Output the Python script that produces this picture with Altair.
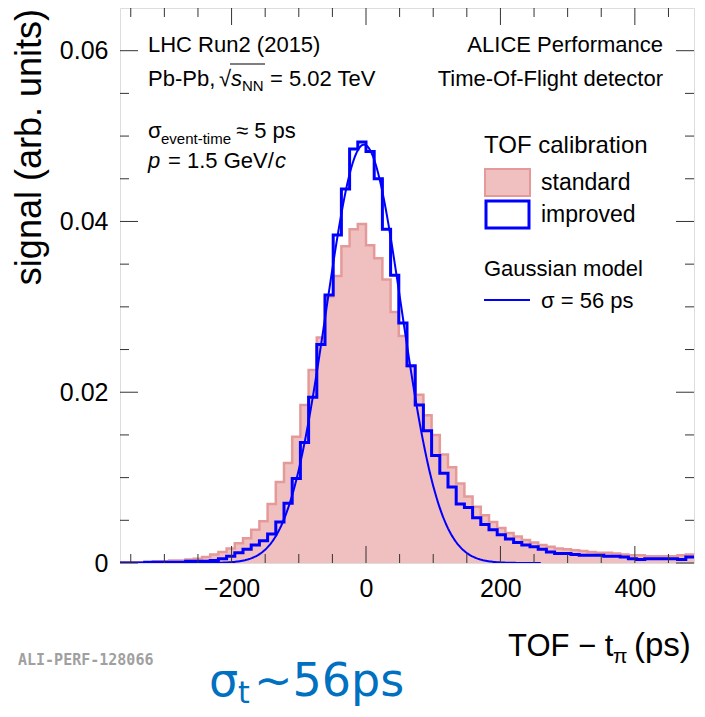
import altair as alt
import numpy as np
import pandas as pd

# ---------------- data ----------------
BIN_LOW = -366.0          # ps, left edge of first bin
BIN_WIDTH = 12.2          # ps
N_BINS = 70

STANDARD = [0.0001, 0.0001, 0.0001, 0.0001, 0.0002, 0.0002, 0.0003, 0.0003, 0.0004, 0.0005,
            0.0007, 0.0010, 0.0013, 0.0017, 0.0023, 0.0029, 0.0039, 0.0049, 0.0069, 0.0095,
            0.0117, 0.0148, 0.0185, 0.0226, 0.0264, 0.0312, 0.0336, 0.0371, 0.0391, 0.0397,
            0.0372, 0.0357, 0.0332, 0.0294, 0.0266, 0.0230, 0.0197, 0.0173, 0.0150, 0.0127,
            0.0112, 0.0093, 0.0078, 0.0066, 0.0056, 0.0048, 0.0041, 0.0035, 0.0031, 0.0027,
            0.0024, 0.0021, 0.0019, 0.0017, 0.0016, 0.0015, 0.0014, 0.0013, 0.0012, 0.0012,
            0.0011, 0.0010, 0.0009, 0.0009, 0.0008, 0.0008, 0.0008, 0.0008, 0.0009, 0.0010]

IMPROVED = [0.0000, 0.0000, 0.0000, 0.0001, 0.0001, 0.0001, 0.0001, 0.0001, 0.0002, 0.0002,
            0.0002, 0.0003, 0.0005, 0.0008, 0.0012, 0.0016, 0.0021, 0.0026, 0.0034, 0.0048,
            0.0070, 0.0099, 0.0141, 0.0194, 0.0256, 0.0314, 0.0384, 0.0438, 0.0485, 0.0493,
            0.0482, 0.0450, 0.0391, 0.0337, 0.0281, 0.0231, 0.0185, 0.0155, 0.0126, 0.0105,
            0.0089, 0.0069, 0.0065, 0.0053, 0.0045, 0.0039, 0.0033, 0.0028, 0.0024, 0.0021,
            0.0019, 0.0016, 0.0013, 0.0011, 0.0011, 0.0010, 0.0009, 0.0009, 0.0009, 0.0008,
            0.0008, 0.0007, 0.0005, 0.0004, 0.0005, 0.0005, 0.0005, 0.0005, 0.0004, 0.0007]

# Gaussian model shown in the legend (sigma = 56 ps)
GAUSS_MEAN = -3.0
GAUSS_SIGMA = 56.0
GAUSS_AMPLITUDE = 0.049
GAUSS_RANGE = [-366.0, 260.0]

X_DOMAIN = [-366.0, 488.0]
Y_DOMAIN = [0.0, 0.065]
X_LABELS = [-200, 0, 200, 400]
Y_LABELS = [0, 0.02, 0.04, 0.06]
X_MINOR = [-350, -300, -250, -150, -100, -50, 50, 100, 150, 250, 300, 350, 450]
Y_MINOR = [0.005, 0.01, 0.015, 0.025, 0.03, 0.035, 0.045, 0.05, 0.055]

# ---------------- build tables ----------------
edges = np.round(BIN_LOW + BIN_WIDTH * np.arange(N_BINS + 1), 2)
hist = pd.DataFrame({
    "t": edges,
    "standard": STANDARD + [STANDARD[-1]],
    "improved": IMPROVED + [IMPROVED[-1]],
})
gx = np.linspace(GAUSS_RANGE[0], GAUSS_RANGE[1], 314)
gauss = pd.DataFrame({"t": gx,
                      "g": GAUSS_AMPLITUDE * np.exp(-0.5 * ((gx - GAUSS_MEAN) / GAUSS_SIGMA) ** 2)})

W, H = 574, 555
OX, OY = 120, 8   # page position of plot origin
FONT = "Liberation Sans"
RED_FILL = "#F0BFBF"
RED_LINE = "#E59A9A"
BLUE = "#0000FF"

xs = alt.Scale(domain=X_DOMAIN, nice=False, zero=False)
ys = alt.Scale(domain=Y_DOMAIN, nice=False, zero=False)

base = alt.Chart(hist)

xaxis = alt.Axis(values=X_LABELS, ticks=False, domain=False, grid=False, labelFont=FONT,
                 labelFontSize=25, labelPadding=13, labelColor="#000", title="")
yaxis = alt.Axis(values=Y_LABELS, ticks=False, domain=False, grid=False, labelFont=FONT,
                 labelFontSize=25, labelPadding=12, labelColor="#000", format=".2~f", title="")

red_area = base.mark_area(interpolate="step-after", color=RED_FILL, clip=True).encode(
    x=alt.X("t:Q", scale=xs, axis=xaxis),
    y=alt.Y("standard:Q", scale=ys, axis=yaxis),
)
red_line = base.mark_line(interpolate="step-after", color=RED_LINE, strokeWidth=2.5, clip=True).encode(
    x=alt.X("t:Q", scale=xs), y=alt.Y("standard:Q", scale=ys))
blue_line = base.mark_line(interpolate="step-after", color=BLUE, strokeWidth=3, clip=True).encode(
    x=alt.X("t:Q", scale=xs), y=alt.Y("improved:Q", scale=ys))
gauss_line = alt.Chart(gauss).mark_line(color=BLUE, strokeWidth=2, clip=True).encode(
    x=alt.X("t:Q", scale=xs), y=alt.Y("g:Q", scale=ys))

TICK_COLOR = "#333333"


def xticks(vals, length):
    d = alt.Chart(pd.DataFrame({"v": vals}))
    bot = d.mark_rule(color=TICK_COLOR, strokeWidth=1).encode(
        x=alt.X("v:Q", scale=xs), y=alt.value(H), y2=alt.value(H - length))
    top = d.mark_rule(color=TICK_COLOR, strokeWidth=1).encode(
        x=alt.X("v:Q", scale=xs), y=alt.value(0), y2=alt.value(length))
    return [bot, top]


def yticks(vals, length):
    d = alt.Chart(pd.DataFrame({"v": vals}))
    left = d.mark_rule(color=TICK_COLOR, strokeWidth=1).encode(
        y=alt.Y("v:Q", scale=ys), x=alt.value(0), x2=alt.value(length))
    right = d.mark_rule(color=TICK_COLOR, strokeWidth=1).encode(
        y=alt.Y("v:Q", scale=ys), x=alt.value(W), x2=alt.value(W - length))
    return [left, right]


ticks = (xticks(X_LABELS, 17) + xticks(X_MINOR, 9) +
         yticks(Y_LABELS, 18) + yticks(Y_MINOR, 9))

one = pd.DataFrame({"k": [0]})


def txt(s, px, py, size=22, align="left", color="#000", italic=False, font=FONT,
        weight="normal", angle=0):
    kw = dict(text=s, align=align, baseline="alphabetic", font=font, fontSize=size,
              color=color, fontWeight=weight)
    if italic:
        kw["fontStyle"] = "italic"
    if angle:
        kw["angle"] = angle
    return alt.Chart(one).mark_text(**kw).encode(x=alt.value(px - OX), y=alt.value(py - OY))


def box(x1, y1, x2, y2, fill, stroke, sw):
    return alt.Chart(one).mark_rect(fill=fill, stroke=stroke, strokeWidth=sw).encode(
        x=alt.value(x1 - OX), x2=alt.value(x2 - OX), y=alt.value(y1 - OY), y2=alt.value(y2 - OY))


def hline(x1, x2, y, color, sw):
    return alt.Chart(one).mark_rule(color=color, strokeWidth=sw).encode(
        x=alt.value(x1 - OX), x2=alt.value(x2 - OX), y=alt.value(y - OY))


texts = [
    # top-left block
    txt("LHC Run2 (2015)", 148, 52),
    txt("Pb-Pb,", 148, 86),
    txt("\u221a", 219, 86),
    txt("s", 231, 86, italic=True),
    txt("NN", 242, 91, size=15),
    txt("= 5.02 TeV", 270, 86),
    hline(230, 265, 64, "#000", 1.2),
    txt("\u03c3", 148, 138),
    txt("event-time", 161, 144, size=15),
    txt("\u2248 5 ps", 236, 138),
    txt("p", 148, 168, italic=True),
    txt("= 1.5 GeV/", 168, 168),
    txt("c", 275, 168, italic=True),
    # top-right block
    txt("ALICE Performance", 663, 52, align="right"),
    txt("Time-Of-Flight detector", 663, 86, align="right"),
    # legend
    txt("TOF calibration", 484, 153, size=24),
    box(485, 169, 530, 196, RED_FILL, RED_LINE, 2),
    txt("standard", 541, 190, size=23),
    box(486, 201, 529, 228, "transparent", BLUE, 3),
    txt("improved", 541, 222, size=23),
    txt("Gaussian model", 484, 276, size=22),
    hline(484, 530, 300, BLUE, 2),
    txt("\u03c3 = 56 ps", 541, 308, size=22),
    # axis titles
    txt("signal (arb. units)", 41, 9, size=36, align="right", angle=270),
    txt("TOF \u2212 t", 508, 656, size=31),
    txt("\u03c0", 613, 663, size=21),
    txt("(ps)", 634, 656, size=33),
    # footers
    txt("ALI-PERF-128066", 18, 665, size=15, color="#A0A0A0", font="DejaVu Sans Mono", weight="bold"),
    txt("\u03c3", 209, 696, size=46, color="#0070C0", font="DejaVu Sans"),
    txt("t", 238, 703, size=30, color="#0070C0", font="DejaVu Sans"),
    txt("~56ps", 254, 696, size=46, color="#0070C0", font="DejaVu Sans"),
]

chart = alt.layer(red_area, red_line, gauss_line, blue_line, *ticks, *texts).properties(
    width=W, height=H,
    autosize=alt.AutoSizeParams(type="none"),
    padding={"left": OX - 8, "top": OY - 8, "right": 3, "bottom": 146},
).configure_view(stroke="#222222", strokeWidth=1).configure(background="white")

chart.save("out.html", embed_options={"renderer": "svg", "actions": False})
